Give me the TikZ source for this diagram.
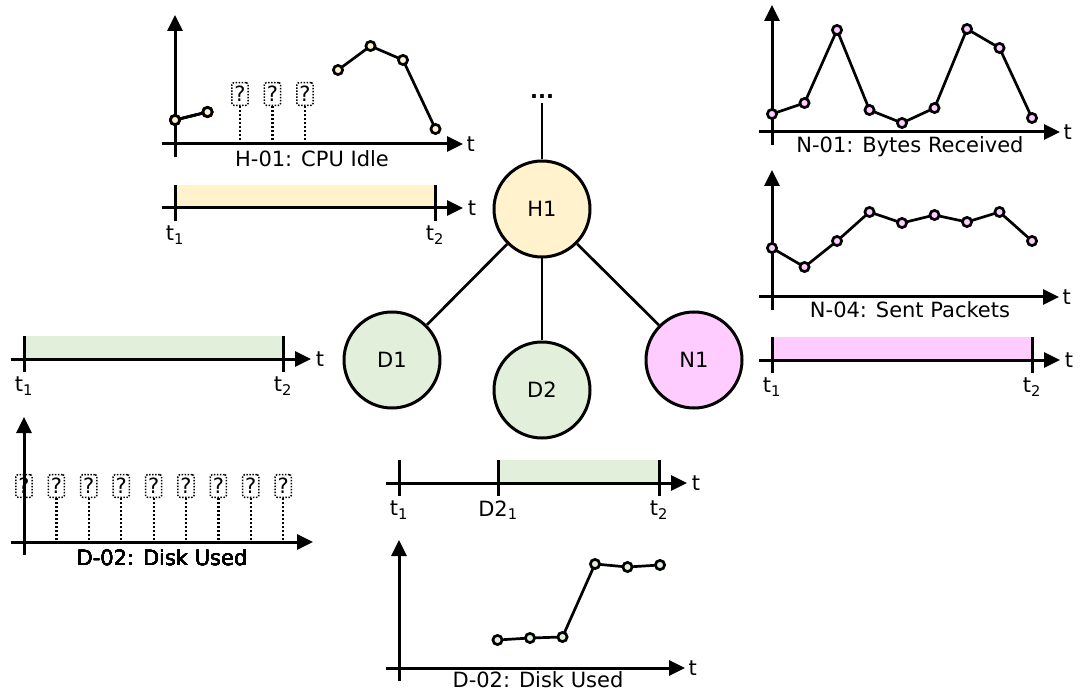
\documentclass[tikz,border=0pt]{standalone}
\usepackage{fontspec}
\setmainfont{DejaVu Sans}
\usetikzlibrary{arrows.meta}
\definecolor{hostfill}{HTML}{FFF2CC}
\definecolor{diskfill}{HTML}{E2EFDA}
\definecolor{netfill}{HTML}{FFCCFF}
\tikzset{
  taxis/.style={line width=3pt, -{Triangle[length=16pt,width=15pt]}},
  tickmark/.style={line width=3pt},
  series/.style={line width=2.7pt, mark=*, mark size=4.6pt, mark options={line width=2.3pt}},
  host/.style={circle, draw, line width=3pt, minimum size=96pt, inner sep=0pt},
  link/.style={line width=2.7pt},
  unknownbox/.style={draw, line width=1.5pt, dash pattern=on 1.5pt off 1.5pt, rounded corners=2pt, inner xsep=2.5pt, inner ysep=3.5pt},
  missing/.style={line width=2.2pt, dash pattern=on 2pt off 2pt}
}
% axes of a metric chart: origin x, origin y, end of time axis, top of value axis
\newcommand{\chartaxes}[4]{\draw[taxis] (#1-13,#2) -- (#3,#2); \draw[taxis] (#1,#2+13) -- (#1,#4);}
% time window: name, t1, start of bar, t2, axis y, fill
\newcommand{\timebar}[6]{\fill[#6] (#3,#5-23) rectangle (#4,#5);
  \draw[taxis] (#2-13,#5) -- (#4+28,#5) node[right] (#1-t) {t};
  \draw[tickmark] (#2,#5-23) -- (#2,#5+13) node[below] (#1-t1) {t\textsubscript{1}};
  \draw[tickmark] (#4,#5-23) -- (#4,#5+13) node[below] (#1-t2) {t\textsubscript{2}};}
% sample that was never received: name, x, box y, axis y
\newcommand{\missingsample}[4]{\node[unknownbox] (#1) at (#2,#3) {?}; \draw[missing] (#1) -- (#2,#4);}

\begin{document}
\begin{tikzpicture}[x=1pt, y=-1pt, font=\fontsize{21pt}{25pt}\selectfont]
\useasboundingbox (0,0) rectangle (1081,692);

    % host with its disks and network card
    \node[host, fill=hostfill] (H1) at (542,209) {H1};
    \node[host, fill=diskfill] (D1) at (392,360) {D1};
    \node[host, fill=diskfill] (D2) at (542,390) {D2};
    \node[host, fill=netfill] (N1) at (694,360) {N1};
    \node[anchor=base] (more) at (542,99) {\textbf{...}};
    \draw[link] (H1) -- (more);
    \foreach \dev in {D1,D2,N1} \draw[link] (H1) -- (\dev);

    %H-01
    \chartaxes{175}{144}{463}{15}
    \node[right] (h01-t) at (463,144) {t};
    \foreach \k in {0,1,2} \missingsample{hq\k}{240+32.5*\k}{94}{144}
    \draw[series, mark options={fill=hostfill}] plot coordinates {(175,120) (207.5,112)};
    \draw[series, mark options={fill=hostfill}] plot coordinates {(338,70) (370.5,46) (403,60) (435.5,129)};
    \node[anchor=base] (h01) at (312,167) {H-01: CPU Idle};
    \timebar{hbar}{175}{175}{435}{208}{hostfill}

    %N-01 and N-04
    \chartaxes{772}{132}{1060}{5}
    \node[right] (n01-t) at (1060,132) {t};
    \draw[series, mark options={fill=netfill}] plot coordinates {(772,114) (804.5,103) (837,30) (869.5,110) (902,123) (934.5,108) (967,29) (999.5,48) (1032,118)};
    \node[anchor=base] (n01) at (910,153) {N-01: Bytes Received};
    \chartaxes{772}{297}{1059}{170}
    \node[right] (n04-t) at (1059,297) {t};
    \draw[series, mark options={fill=netfill}] plot coordinates {(772,248) (804.5,267) (837,241) (869.5,212) (902,223) (934.5,215) (967,222) (999.5,212) (1032,241)};
    \node[anchor=base] (n04) at (910,318) {N-04: Sent Packets};
    \timebar{nbar}{772}{772}{1032}{360}{netfill}

    %D1
    \timebar{dbar}{24}{24}{283}{359}{diskfill}
    \chartaxes{24}{542}{313}{417}
    \foreach \k in {0,...,8} \missingsample{dq\k}{24+32.4*\k}{486}{542}
    \node[anchor=base] (d1d02) at (162,565) {D-02: Disk Used};

    %D2
    \timebar{dtwo}{399}{498}{659}{483}{diskfill}
    \draw[tickmark] (498,460) -- (498,496) node[below] (dtwo-s) {D2\textsubscript{1}};
    \chartaxes{399}{668}{685}{540}
    \node[right] (d2-t) at (685,668) {t};
    \draw[series, mark options={fill=diskfill}] plot coordinates {(497.5,640) (530,638) (562.5,637) (595,564) (627.5,567) (660,565)};
    \node[anchor=base] (d2d02) at (538,687) {D-02: Disk Used};

\end{tikzpicture}
\end{document}
